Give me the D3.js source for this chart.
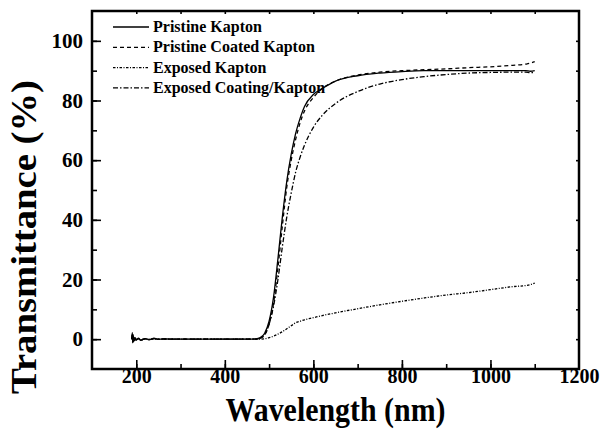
<!DOCTYPE html>
<html>
<head>
<meta charset="utf-8">
<script src="https://cdn.jsdelivr.net/npm/d3@7"></script>
<style>
  body { margin: 0; background: #fff; }
  svg { display: block; }
  text { font-family: "Liberation Serif", "Times New Roman", serif; font-weight: bold; fill: #000; }
</style>
</head>
<body>
<svg id="chart" width="603" height="433"></svg>
<script>
// wavelength grid (nm)
const wavelength = [190,191,192,193,194,195,196,198,200,205,210,220,230,240,250,260,280,300,350,400,450,470,480,490,500,510,520,530,540,550,560,570,580,600,620,650,700,750,800,850,900,950,1000,1050,1080,1090,1100];

// transmittance (%) per sample
const pristine      = [0,2.2,-1.2,1.5,-0.8,0.6,-0.5,0.4,-0.3,0.3,-0.4,0.2,-0.2,0.3,-0.1,0.1,0,0,0,0,0,0.1,0.5,2,6,14,27,41,53,62,69,74,78,82,84,86.5,88.3,89.2,89.7,90,90,90,90,90,90,89.8,90];
const pristineCoat  = [0,1.8,-1.0,1.2,-0.6,0.5,-0.4,0.3,-0.2,0.2,-0.3,0.2,-0.1,0.2,0,0.1,0,0,0,0,0,0,0.3,1.5,5,12,24,38,51,60,67,72.5,76.5,81,84,86.5,88.5,89.5,90,90.3,90.6,91,91.3,91.8,92.2,92.5,93];
const exposed       = [0,1.5,-0.9,1.0,-0.5,0.4,-0.3,0.2,-0.2,0.2,-0.2,0.1,-0.1,0.1,0,0,0,0,0,0,0,0,0,0.1,0.5,1,1.7,2.5,3.5,4.5,5.5,6,6.5,7.2,7.9,8.8,10.2,11.5,12.7,13.8,14.8,15.6,16.6,17.6,18,18.3,18.8];
const exposedCoat   = [0,1.6,-1.1,1.3,-0.7,0.5,-0.4,0.3,-0.3,0.2,-0.3,0.1,-0.2,0.2,-0.1,0,0,0,0,0,0,0,0.3,1.5,5,11,20,31,41,49,56,61,65,71,75,79,83,85.5,87,88,88.7,89.2,89.4,89.5,89.5,89.3,89.5];

const seriesNames = ["Pristine Kapton", "Pristine Coated Kapton", "Exposed Kapton", "Exposed Coating/Kapton"];
const seriesValues = [pristine, pristineCoat, exposed, exposedCoat];
const seriesDash = ["none", "4,3", "2.5,1.5,1,1.5", "5,2,1.5,2"];

const xTicks = [200, 400, 600, 800, 1000, 1200];
const yTicks = [0, 20, 40, 60, 80, 100];

const svg = d3.select("#chart");
const m = { left: 92, right: 579, top: 11, bottom: 369 };
const serif = '"Liberation Serif", "Times New Roman", serif';

const x = d3.scaleLinear().domain([100, 1200]).range([m.left, m.right]);
const y = d3.scaleLinear().domain([-10, 110]).range([m.bottom, m.top]);

// curves
const line = d3.line()
  .x(d => x(d[0]))
  .y(d => y(d[1]))
  .curve(d3.curveMonotoneX);

const curves = svg.append("g").attr("id", "curves");
seriesValues.forEach((vals, i) => {
  curves.append("path")
    .datum(wavelength.map((w, j) => [w, vals[j]]))
    .attr("d", line)
    .attr("fill", "none")
    .attr("stroke", "#000")
    .attr("stroke-width", 1.3)
    .attr("stroke-dasharray", seriesDash[i]);
});

// axes, ticks point inward
const minorX = d3.range(200, 1200, 100);
const minorY = d3.range(0, 110, 10);

function plain(g) {
  g.select(".domain").remove();
  g.attr("font-family", serif).attr("font-size", 20).attr("font-weight", "bold");
}

svg.append("g")
  .attr("transform", `translate(0,${m.bottom})`)
  .call(d3.axisTop(x).tickValues(minorX).tickSize(5).tickFormat(""))
  .call(plain);
svg.append("g")
  .attr("transform", `translate(0,${m.bottom})`)
  .call(d3.axisTop(x).tickValues(xTicks.slice(0, -1)).tickSize(9).tickFormat(""))
  .call(plain);
svg.append("g")
  .attr("transform", `translate(0,${m.bottom})`)
  .call(d3.axisBottom(x).tickValues(xTicks).tickSize(0).tickPadding(0).tickFormat(d3.format("d")))
  .call(plain);

svg.append("g")
  .attr("transform", `translate(${m.left},0)`)
  .call(d3.axisRight(y).tickValues(minorY).tickSize(5).tickFormat(""))
  .call(plain);
svg.append("g")
  .attr("transform", `translate(${m.left},0)`)
  .call(d3.axisRight(y).tickValues(yTicks).tickSize(9).tickFormat(""))
  .call(plain);
svg.append("g")
  .attr("transform", `translate(${m.left},0)`)
  .call(d3.axisLeft(y).tickValues(yTicks).tickSize(0).tickPadding(9).tickFormat(d3.format("d")))
  .call(plain)
  .call(g => g.selectAll("text").attr("font-size", 21));

// small mirror ticks on top / right
svg.append("g")
  .attr("transform", `translate(0,${m.top})`)
  .call(d3.axisBottom(x).tickValues(minorX).tickSize(3).tickFormat(""))
  .call(plain);
svg.append("g")
  .attr("transform", `translate(${m.right},0)`)
  .call(d3.axisLeft(y).tickValues(minorY).tickSize(3).tickFormat(""))
  .call(plain);

svg.selectAll(".tick line").attr("stroke", "#000").attr("stroke-width", 1.6);

// frame
svg.append("rect")
  .attr("x", m.left).attr("y", m.top)
  .attr("width", m.right - m.left).attr("height", m.bottom - m.top)
  .attr("fill", "none").attr("stroke", "#000").attr("stroke-width", 2.5);

// titles
svg.append("text")
  .attr("x", (m.left + m.right) / 2).attr("y", 421)
  .attr("text-anchor", "middle")
  .attr("font-size", 34)
  .attr("textLength", 220).attr("lengthAdjust", "spacingAndGlyphs")
  .text("Wavelength (nm)");

svg.append("text")
  .attr("transform", "translate(36,237) rotate(-90)")
  .attr("text-anchor", "middle")
  .attr("font-size", 35)
  .attr("textLength", 314).attr("lengthAdjust", "spacingAndGlyphs")
  .text("Transmittance (%)");

// legend
const legend = svg.append("g").attr("id", "legend");
seriesNames.forEach((name, i) => {
  const ly = 27 + i * 20.3;
  legend.append("line")
    .attr("x1", 113).attr("x2", 149)
    .attr("y1", ly).attr("y2", ly)
    .attr("stroke", "#000").attr("stroke-width", 1.3)
    .attr("stroke-dasharray", seriesDash[i]);
  legend.append("text")
    .attr("x", 153).attr("y", ly + 5)
    .attr("font-size", 16)
    .text(name);
});
</script>
</body>
</html>
